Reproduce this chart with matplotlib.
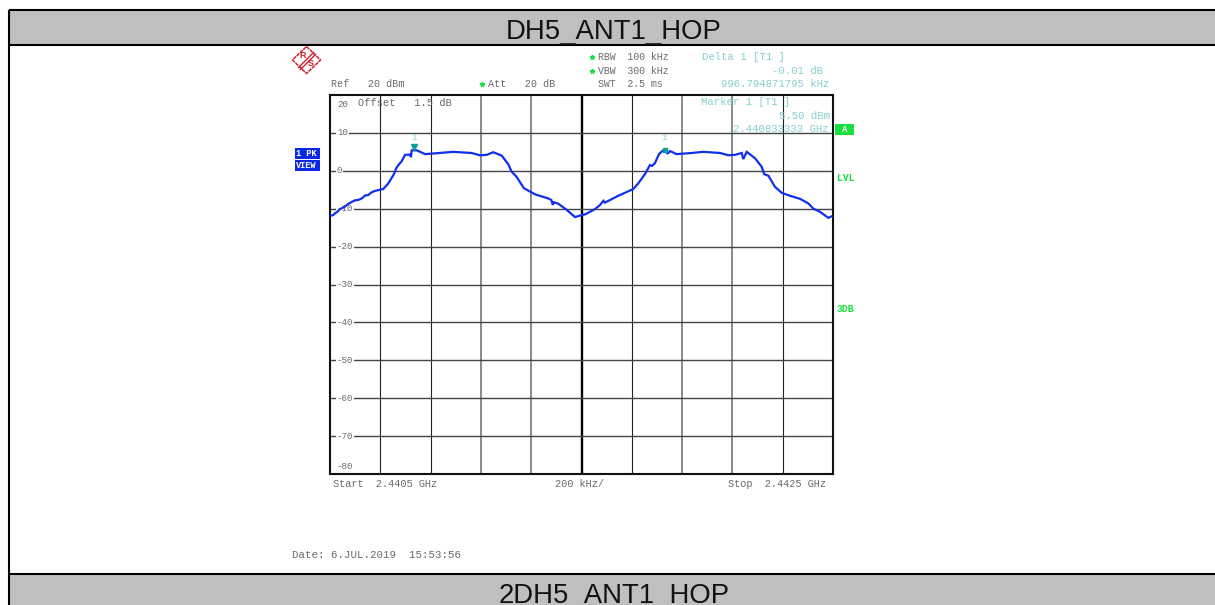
import matplotlib
matplotlib.use('Agg')
import matplotlib.pyplot as plt
from matplotlib.patches import Polygon, Rectangle

# trace (kHz from start, dBm)
freq_khz = [4, 12, 20, 28, 40, 56, 73, 99, 112, 126, 140, 152, 165, 179, 212, 232, 254, 265, 278, 285, 298, 318, 322, 325, 345, 378, 417, 489,
            563, 596, 623, 649, 683, 709, 722, 742, 771, 815, 868, 880, 886, 890, 908, 941, 974, 1001,
            1014, 1054, 1074, 1087, 1093, 1146, 1206, 1226, 1252, 1272, 1280, 1292, 1308, 1325, 1343, 1352, 1378, 1438, 1484,
            1551, 1584, 1610, 1637, 1643, 1657, 1690, 1716, 1727, 1743, 1769, 1796, 1829, 1869, 1902, 1922, 1948, 1981, 1995]
level_dbm = [-11.8, -11.7, -11.2, -10.9, -10.1, -9.6, -8.7, -7.8, -7.7, -7.3, -6.5, -6.4, -5.7, -5.3, -4.8, -3.3, -0.9, 0.9, 2.0, 2.5, 4.2, 4.3, 3.6, 5.4, 5.4, 4.4, 4.6, 5.0,
             4.7, 4.1, 4.2, 4.9, 4.0, 1.7, -0.2, -1.6, -4.6, -6.2, -7.3, -7.7, -9.0, -8.3, -8.7, -10.3, -12.2, -11.7,
             -11.5, -10.1, -9.0, -7.9, -8.4, -6.6, -4.8, -3.3, -0.9, 1.5, 1.3, 2.0, 4.4, 5.4, 4.6, 5.2, 4.4, 4.7, 5.0,
             4.7, 4.1, 4.2, 4.7, 3.1, 5.0, 3.3, 1.1, -0.9, -1.3, -4.2, -5.8, -6.6, -7.4, -8.6, -10.0, -10.8, -12.4, -12.0]

grid_khz = [200, 400, 600, 800, 1000, 1200, 1400, 1600, 1800]
grid_db = [10, 0, -10, -20, -30, -40, -50, -60, -70]
y_labels = ['20', '10', '0', '-10', '-20', '-30', '-40', '-50', '-60', '-70', '-80']
y_label_db = [17.6, 10, 0, -10, -20, -30, -40, -50, -60, -70, -78]
marker_khz = [333.3, 1330.1]
marker_db = [5.5, 5.49]

W, H = 1215, 605
TXT = '#6a6a6a'
CYAN = '#86cfcf'
GREEN = '#18e040'
MONO = 'Liberation Mono'

fig = plt.figure(figsize=(W / 100, H / 100), dpi=100)

# the analyser plot
ax = fig.add_axes([330 / W, (H - 474) / H, 503 / W, 379 / H])
ax.set_xlim(0, 2000)
ax.set_ylim(-80, 20)
ax.set_xticks([])
ax.set_yticks([])
for s in ax.spines.values():
    s.set_linewidth(1.5)
    s.set_color('#111111')

v_colors = ['#222222', '#222222', '#777777', '#777777', 'black', '#222222', '#777777', '#777777', '#222222']
v_widths = [0.8, 0.8, 1.2, 1.2, 1.7, 0.8, 1.2, 1.2, 0.8]
for k, c, w in zip(grid_khz, v_colors, v_widths):
    ax.axvline(k, color=c, lw=w, zorder=1)
for d in grid_db:
    ax.axhline(d, color='#444444', lw=1.0, zorder=1)

for lab, d in zip(y_labels, y_label_db):
    ax.annotate(lab, xy=(0, d), xycoords=('axes fraction', 'data'), xytext=(5, 0),
                textcoords='offset points', ha='left', va='center', family=MONO, fontsize=6.6,
                color=TXT, zorder=2, bbox=dict(facecolor='white', edgecolor='none', pad=0.5))

ax.plot(freq_khz, level_dbm, color='#1030ee', lw=1.6, zorder=4, solid_joinstyle='miter')
ax.plot(marker_khz[0], marker_db[0] + 0.9, marker='v', color='#109a9a', ms=5, zorder=5, ls='none')
ax.plot(marker_khz[1], marker_db[1], marker='s', color='#109a9a', ms=3.2, zorder=5, ls='none')

# page frame, headers and everything around the plot, in pixels
px = fig.add_axes([0, 0, 1, 1], zorder=3)
px.set_xlim(0, W)
px.set_ylim(H, 0)
px.axis('off')
px.patch.set_alpha(0)

px.add_patch(Rectangle((9, 10), W - 9, 35, facecolor='#bfbfbf', edgecolor='none'))
px.add_patch(Rectangle((9, 573), W - 9, 32, facecolor='#bfbfbf', edgecolor='none'))
for y in [10, 45, 573.5]:
    px.plot([9, W], [y, y], color='black', lw=1.5, solid_capstyle='butt')
px.plot([9, 9], [9.5, H], color='black', lw=1.5, solid_capstyle='butt')

px.text(614, 32, 'DH5_ANT1_HOP', family='Liberation Sans', fontsize=19.8, ha='center', va='center', color='#111111')
px.text(614, 596, '2DH5_ANT1_HOP', family='Liberation Sans', fontsize=19.8, ha='center', va='center', color='#111111')


def mono(x, y, s, color=TXT, ha='left', **kw):
    kw.setdefault('fontsize', 7.3)
    px.text(x, y, s, family=MONO, color=color, ha=ha, va='center', **kw)


mono(331, 84, 'Ref   20 dBm')
mono(488, 84, 'Att   20 dB')
mono(598, 57, 'RBW  100 kHz', fontsize=7.1)
mono(598, 71, 'VBW  300 kHz', fontsize=7.1)
mono(598, 84, 'SWT  2.5 ms', fontsize=7.1)
mono(358, 103, 'Offset   1.5 dB', fontsize=7.5)
for x, y in [(482, 84), (592, 57), (592, 71)]:
    px.plot(x, y, marker='*', color=GREEN, ms=3.5, ls='none')

mono(702, 57, 'Delta 1 [T1 ]', CYAN, fontsize=7.7)
mono(823, 71, '-0.01 dB', CYAN, ha='right', fontsize=7.7)
mono(829, 84, '996.794871795 kHz', CYAN, ha='right', fontsize=7.7)
mono(701, 102, 'Marker 1 [T1 ]', CYAN, fontsize=7.7)
mono(830, 116, '5.50 dBm', CYAN, ha='right', fontsize=7.7)
mono(829, 129, '2.440833333 GHz', CYAN, ha='right', fontsize=7.7)
mono(414, 138, '1', CYAN, ha='center', fontsize=6.5)
mono(664, 138, '1', CYAN, ha='center', fontsize=6.5)

mono(333, 484, 'Start  2.4405 GHz', fontsize=7.4)
mono(555, 484, '200 kHz/', fontsize=7.4)
mono(728, 484, 'Stop  2.4425 GHz', fontsize=7.4)
mono(292, 555, 'Date: 6.JUL.2019  15:53:56', fontsize=7.75)

# side badges
px.add_patch(Rectangle((295, 148), 25, 11, facecolor='#0a28e6', edgecolor='none'))
px.add_patch(Rectangle((295, 160), 25, 11, facecolor='#0a28e6', edgecolor='none'))
mono(296, 153.5, '1 PK', 'white', fontsize=6.2, fontweight='bold')
mono(296, 166, 'VIEW', 'white', fontsize=6.2, fontweight='bold')
px.add_patch(Rectangle((835, 124), 19, 11, facecolor=GREEN, edgecolor='none'))
mono(844.5, 129.5, 'A', 'white', ha='center', fontsize=6.5, fontweight='bold')
mono(837, 178, 'LVL', GREEN, fontsize=7, fontweight='bold')
mono(837, 309, '3DB', GREEN, fontsize=7, fontweight='bold')

# R&S logo
RED = '#cc2030'
px.add_patch(Polygon([(306.5, 46.5), (320.5, 60), (306.5, 73.5), (292.5, 60)], closed=True,
                     facecolor='none', edgecolor=RED, lw=1.1, ls=(0, (2.5, 0.5))))
px.plot([298.5, 313.5], [67.5, 52.5], color=RED, lw=1.0)
px.plot([300.5, 315.5], [69.5, 54.5], color=RED, lw=1.0)
px.text(302.5, 55, 'R', color=RED, family='Liberation Sans', fontsize=6.5, fontweight='bold', ha='center', va='center')
px.text(310.5, 64, 'S', color=RED, family='Liberation Sans', fontsize=6.5, fontweight='bold', ha='center', va='center')

fig.savefig('out.png', dpi=100)
